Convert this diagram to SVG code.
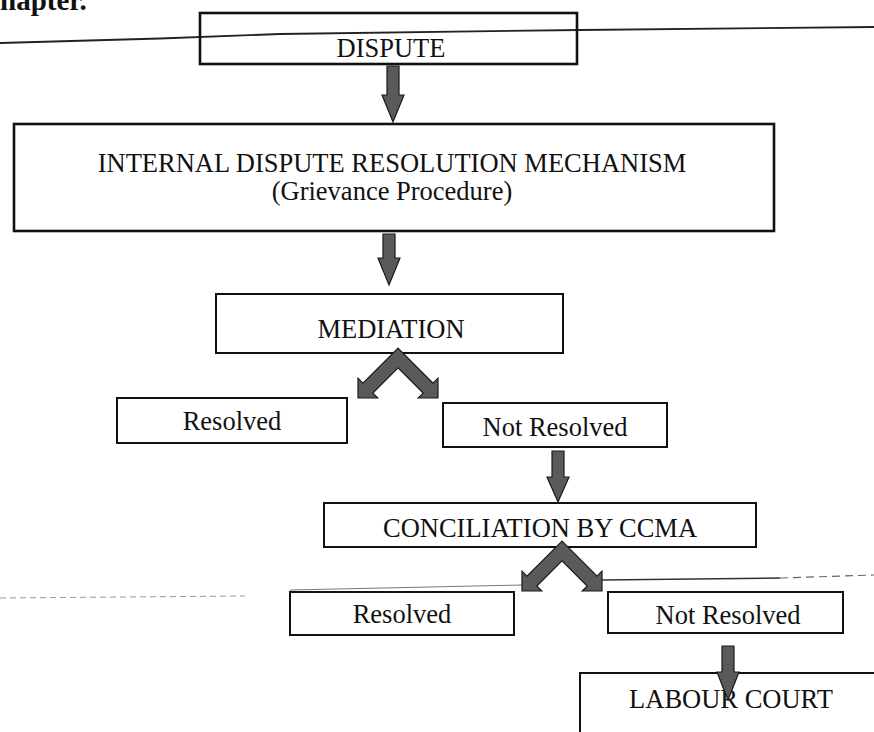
<svg xmlns="http://www.w3.org/2000/svg" width="874" height="732" viewBox="0 0 874 732">
<style>
.box{fill:none;stroke:#111;stroke-width:2}
.tbox{fill:none;stroke:#111;stroke-width:2.6}
.lbl{font-family:"Liberation Serif","Times New Roman",serif;font-size:26.5px;fill:#111;text-anchor:middle}
.arr{fill:#5a5a5a;stroke:#1a1a1a;stroke-width:1.2;stroke-linejoin:miter}
.rule{fill:none;stroke:#222;stroke-width:1.8}
</style>
<rect width="874" height="732" fill="#fff"/>
<text x="0" y="10" style="font-family:'Liberation Serif','Times New Roman',serif;font-size:29px;font-weight:bold;fill:#111">hapter.</text>
<g id="page-rules">
<polyline class="rule" points="0,43 160,38.5 280,34 580,30 874,27"/>
<path d="M0,598 L245,596" fill="none" stroke="#999" stroke-width="1" stroke-dasharray="6 4"/>
<path d="M290,590 L522,585" fill="none" stroke="#777" stroke-width="1"/>
<path d="M602,580 L780,578" fill="none" stroke="#333" stroke-width="1.5"/>
<path d="M780,578 L874,575" fill="none" stroke="#666" stroke-width="1.2" stroke-dasharray="8 5"/>
</g>
<g id="dispute">
<rect class="tbox" x="200" y="13" width="377" height="51"/>
<text class="lbl" x="391" y="57">DISPUTE</text>
</g>
<g id="internal">
<rect class="tbox" x="14" y="124" width="760" height="107"/>
<text class="lbl" x="392" y="172">INTERNAL DISPUTE RESOLUTION MECHANISM</text>
<text class="lbl" x="392" y="200">(Grievance Procedure)</text>
</g>
<g id="mediation">
<rect class="box" x="216" y="294" width="347" height="59"/>
<text class="lbl" x="391" y="338">MEDIATION</text>
</g>
<g id="resolved1">
<rect class="box" x="117" y="398" width="230" height="45"/>
<text class="lbl" x="232" y="430">Resolved</text>
</g>
<g id="notresolved1">
<rect class="box" x="443" y="403" width="224" height="44"/>
<text class="lbl" x="555" y="436">Not Resolved</text>
</g>
<g id="conciliation">
<rect class="box" x="324" y="503" width="432" height="44"/>
<text class="lbl" x="540" y="537">CONCILIATION BY CCMA</text>
</g>
<g id="resolved2">
<rect class="box" x="290" y="592" width="224" height="43"/>
<text class="lbl" x="402" y="623">Resolved</text>
</g>
<g id="notresolved2">
<rect class="box" x="608" y="592" width="235" height="41"/>
<text class="lbl" x="728" y="624">Not Resolved</text>
</g>
<g id="labourcourt">
<path class="box" d="M880,673 H580 V740"/>
<text class="lbl" x="731" y="708">LABOUR COURT</text>
</g>
<g id="connectors">
<path class="arr" d="M387,66 H399 V95 H404 L393,122 L382,95 H387 Z"/>
<path class="arr" d="M383,234 H395 V258 H400 L389,285 L378,258 H383 Z"/>
<path class="arr" d="M398,348.1 L362.95,383.15 L358,378.2 L358,398 L377.8,398 L372.85,393.05 L398,367.9 L423.15,393.05 L418.2,398 L438,398 L438,378.2 L433.05,383.15 Z"/>
<path class="arr" d="M552,451 H564 V477 H569 L558,502 L547,477 H552 Z"/>
<path class="arr" d="M562,541.1 L526.95,576.15 L522,571.2 L522,591 L541.8,591 L536.85,586.05 L562,560.9 L587.15,586.05 L582.2,591 L602,591 L602,571.2 L597.05,576.15 Z"/>
<path class="arr" d="M722,646 H734 V672 H739 L728,700 L717,672 H722 Z"/>
</g>
</svg>
